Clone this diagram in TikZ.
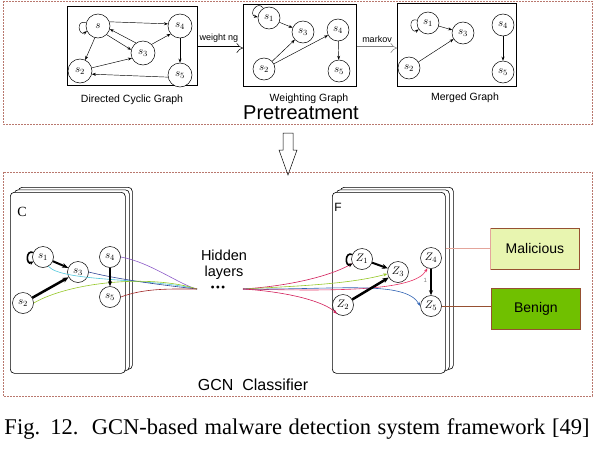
\documentclass[tikz,border=0pt]{standalone}
\usepackage{fontspec}
\setmainfont{Liberation Serif}
\setsansfont{Liberation Sans}
\usetikzlibrary{arrows.meta}
\definecolor{dashred}{RGB}{185,120,110}
\definecolor{malfill}{RGB}{232,245,176}
\definecolor{benfill}{RGB}{112,192,0}
\definecolor{boxbrown}{RGB}{150,80,50}
\definecolor{pinkline}{RGB}{228,165,155}
\definecolor{ccyan}{RGB}{80,200,220}
\definecolor{cblue}{RGB}{50,70,150}
\definecolor{cpurple}{RGB}{140,90,200}
\definecolor{cgreen}{RGB}{150,200,40}
\definecolor{cred}{RGB}{160,40,40}
\definecolor{crimson}{RGB}{210,30,90}
\definecolor{zpink}{RGB}{230,50,100}
\definecolor{zblue}{RGB}{50,100,180}
\tikzset{
  region/.style={draw=dashred, dash pattern=on 2pt off 1pt, line width=0.6pt},
  gbox/.style={draw, line width=0.8pt, inner sep=0pt, anchor=north west},
  st/.style={circle, draw, line width=0.5pt, minimum size=22pt, inner sep=0pt, fill=white, font=\fontsize{11}{11}\selectfont},
  stb/.style={st, minimum size=24pt},
  ed/.style={-{Stealth[length=4pt,width=3pt]}, line width=0.45pt},
  thk/.style={-{Stealth[length=6pt,width=5pt]}, line width=2pt},
  card/.style={draw, rounded corners=4pt, fill=white, line width=0.6pt, inner sep=0pt, anchor=north west},
  lbl/.style={font=\sffamily\fontsize{10.5}{12}\selectfont},
  bigarrow/.style={double, double distance=3pt, line width=0.5pt, -{Implies[length=5pt]}},
  cls/.style={draw=boxbrown, line width=0.8pt, minimum width=89pt, minimum height=41pt, font=\sffamily\fontsize{14}{16}\selectfont},
  cu/.style={line width=0.6pt},
  cua/.style={line width=0.6pt, -{Stealth[length=4pt,width=3pt]}}
}
\begin{document}
\begin{tikzpicture}[x=1pt,y=-1pt]
\useasboundingbox (0,0) rectangle (594,450);
% regions
\draw[region] (3,1) rectangle (592,124);
\draw[region] (3,172) rectangle (592,396);

% ---------- Pretreatment ----------
\node[gbox, minimum width=130pt, minimum height=79pt] (box1) at (67,6) {};
\node[gbox, minimum width=113pt, minimum height=82pt] (box2) at (243,4) {};
\node[gbox, minimum width=119pt, minimum height=83pt] (box3) at (397,3) {};
\node[lbl] (t1) at (132,100) {Directed Cyclic Graph};
\node[lbl] (t2) at (309,99) {Weighting Graph};
\node[lbl] (t3) at (465,98) {Merged Graph};
\node[font=\sffamily\fontsize{20}{22}\selectfont] (pre) at (301,113) {Pretreatment};

% box1 graph
\node[stb] (a1) at (98,26) {$s$};
\node[stb] (a4) at (180,26) {$s_4$};
\node[stb] (a3) at (143,53) {$s_3$};
\node[stb] (a2) at (80,71) {$s_2$};
\node[stb] (a5) at (180,75) {$s_5$};
\draw[ed] (a1.20) -- (a4.170);
\draw[ed] (a3.125) -- (a1.-15);
\draw[ed] (a1.-45) -- (a3.165);
\draw[ed] (a1.255) -- (a2.65);
\draw[ed] (a2.15) -- (a3.205);
\draw[ed] (a3.45) -- (a4.220);
\draw[ed] (a4) -- (a5);
\draw[ed] (a5.190) -- (a2.-15);
\draw[ed] (a1.165) .. controls +(-11,-4) and +(-8,6) .. (a1.205);

% box2 graph
\node[st] (b1) at (269,18) {$s_1$};
\node[st] (b3) at (303,32) {$s_3$};
\node[st] (b4) at (338,30) {$s_4$};
\node[st] (b2) at (264,69) {$s_2$};
\node[st] (b5) at (339,71) {$s_5$};
\draw[ed] (b1) -- (b3);
\draw[ed] (b2) -- (b3);
\draw[ed] (b2) -- (b4);
\draw[ed] (b4) -- (b5);
\draw[ed] (b1.120) .. controls +(-6,-9) and +(-10,-2) .. (b1.175);

% box3 graph
\node[st] (m1) at (428,23) {$s_1$};
\node[st] (m3) at (463,33) {$s_3$};
\node[st] (m4) at (503,25) {$s_4$};
\node[st] (m2) at (409,68) {$s_2$};
\node[st] (m5) at (503,72) {$s_5$};
\draw[ed] (m1) -- (m3);
\draw[ed] (m2) -- (m3);
\draw[ed] (m4) -- (m5);
\draw[ed] (m1.165) .. controls +(-10,-3) and +(-8,5) .. (m1.215);

% transitions
\draw[bigarrow] (box1.east |- 0,48) -- (box2.west |- 0,48);
\node[font=\sffamily\fontsize{9}{10}\selectfont] (wlab) at (219,38) {weight ng};
\draw[bigarrow, draw=gray] (box2.east |- 0,48) -- (box3.west |- 0,48);
\node[font=\sffamily\fontsize{9}{10}\selectfont] (mlab) at (377,39) {markov};

% down arrow
\draw[line width=0.5pt] (283,133) -- (293,133) -- (293,150) -- (297,150) -- (288,175) -- (279,150) -- (283,150) -- cycle;

% ---------- GCN Classifier ----------
\node[font=\sffamily\fontsize{16}{18}\selectfont] (gcn) at (253,385) {GCN\ \ Classifier};

% C stack
\node[card, minimum width=114pt, minimum height=182pt] (cback) at (18,187) {};
\node[card, minimum width=115pt, minimum height=181pt] (cmid) at (14,189.5) {};
\node[card, minimum width=115pt, minimum height=181pt] (cfront) at (10,192) {};
\node[font=\fontsize{14}{14}\selectfont] (clab) at (22,212) {C};

% F stack
\node[card, minimum width=113pt, minimum height=182pt] (fback) at (340,187) {};
\node[card, minimum width=113pt, minimum height=181pt] (fmid) at (336,189.5) {};
\node[card, minimum width=113pt, minimum height=181pt] (ffront) at (332,192) {};
\node[font=\sffamily\fontsize{12}{12}\selectfont] (flab) at (338,207) {F};

% hidden layers
\node[font=\sffamily\fontsize{14.5}{16}\selectfont, align=center] (hid) at (224,265) {Hidden\\layers};
\node[font=\fontsize{12}{12}\selectfont] (dots) at (218,289) {\textbullet\kern1pt\textbullet\kern1pt\textbullet};
\coordinate (hlin) at (197,289);
\coordinate (hlout) at (243,289);

% C nodes
\node[st, minimum size=21pt] (c1) at (43,257) {$s_1$};
\node[st, minimum size=21pt] (c3) at (78,272) {$s_3$};
\node[st, minimum size=21pt] (c2) at (23,303) {$s_2$};
\node[st, minimum size=21pt] (c4) at (110,257) {$s_4$};
\node[st, minimum size=21pt] (c5) at (110,297) {$s_5$};

% C curves
\draw[cu, ccyan] (c1.-60) .. controls (62,282) and (150,278) .. (hlin);
\draw[cu, cblue] (c3.east) .. controls (120,280) and (170,286) .. (hlin);
\draw[cu, cpurple] (c4.east) .. controls (150,262) and (180,285) .. (hlin);
\draw[cu, cgreen] (c2.east) .. controls (70,282) and (150,274) .. (hlin);
\draw[cu, cred] (c5.east) .. controls (145,288) and (170,289) .. (hlin);

% C edges
\draw[thk] (c1) -- (c3);
\draw[thk, line width=2.5pt] (c2) -- (c3);
\draw[-{Stealth[length=5pt,width=4pt]}, line width=1.3pt] (c4) -- (c5);
\draw[line width=1.6pt, -{Stealth[length=4pt,width=4pt]}] (c1.155) .. controls +(-8,-3) and +(-7,4) .. (c1.205);

% F nodes
\node[st, minimum size=21pt] (z1) at (362,259) {$Z_1$};
\node[st, minimum size=21pt] (z3) at (398,272) {$Z_3$};
\node[st, minimum size=21pt] (z4) at (431,258) {$Z_4$};
\node[st, minimum size=21pt] (z2) at (343,305) {$Z_2$};
\node[st, minimum size=21pt] (z5) at (431,306) {$Z_5$};

% F curves
\draw[cua, crimson] (hlout) .. controls (290,286) and (330,276) .. (z1.205);
\draw[cua, cgreen] (hlout) .. controls (300,286) and (350,284) .. (z3.190);
\draw[cua, zpink] (hlout) .. controls (330,291) and (415,292) .. (z4.250);
\draw[cua, zblue] (hlout) .. controls (340,290) and (405,280) .. (z5.180);
\draw[cua, crimson] (hlout) .. controls (290,292) and (325,302) .. (z2.235);

% F edges
\draw[thk] (z1) -- (z3);
\draw[thk, line width=2.5pt] (z2) -- (z3);
\draw[-{Stealth[length=5pt,width=4pt]}, line width=1.3pt] (z4) -- node[left, font=\sffamily\fontsize{6}{6}\selectfont, text=gray, pos=0.45] (w1) {1} (z5);
\draw[line width=1.6pt, -{Stealth[length=4pt,width=4pt]}] (z1.155) .. controls +(-8,-3) and +(-7,4) .. (z1.205);

% classes
\node[cls, fill=malfill, anchor=north west] (mal) at (490,228) {Malicious};
\node[cls, fill=benfill, anchor=north west] (ben) at (491,288) {Benign};
\draw[pinkline, line width=0.8pt] (mal.north west) -- (mal.south west);
\draw[pinkline, line width=0.8pt] (ffront.east |- 0,248) -- (mal.west |- 0,248);
\draw[boxbrown, line width=0.8pt] (z5.east) -- (ben.west |- z5.east);

% caption
\node[font=\fontsize{22.5}{25}\selectfont] (cap) at (297,429) {\makebox[585pt][s]{Fig. 12.\ \ GCN-based malware detection system framework [49]}};
\end{tikzpicture}
\end{document}
